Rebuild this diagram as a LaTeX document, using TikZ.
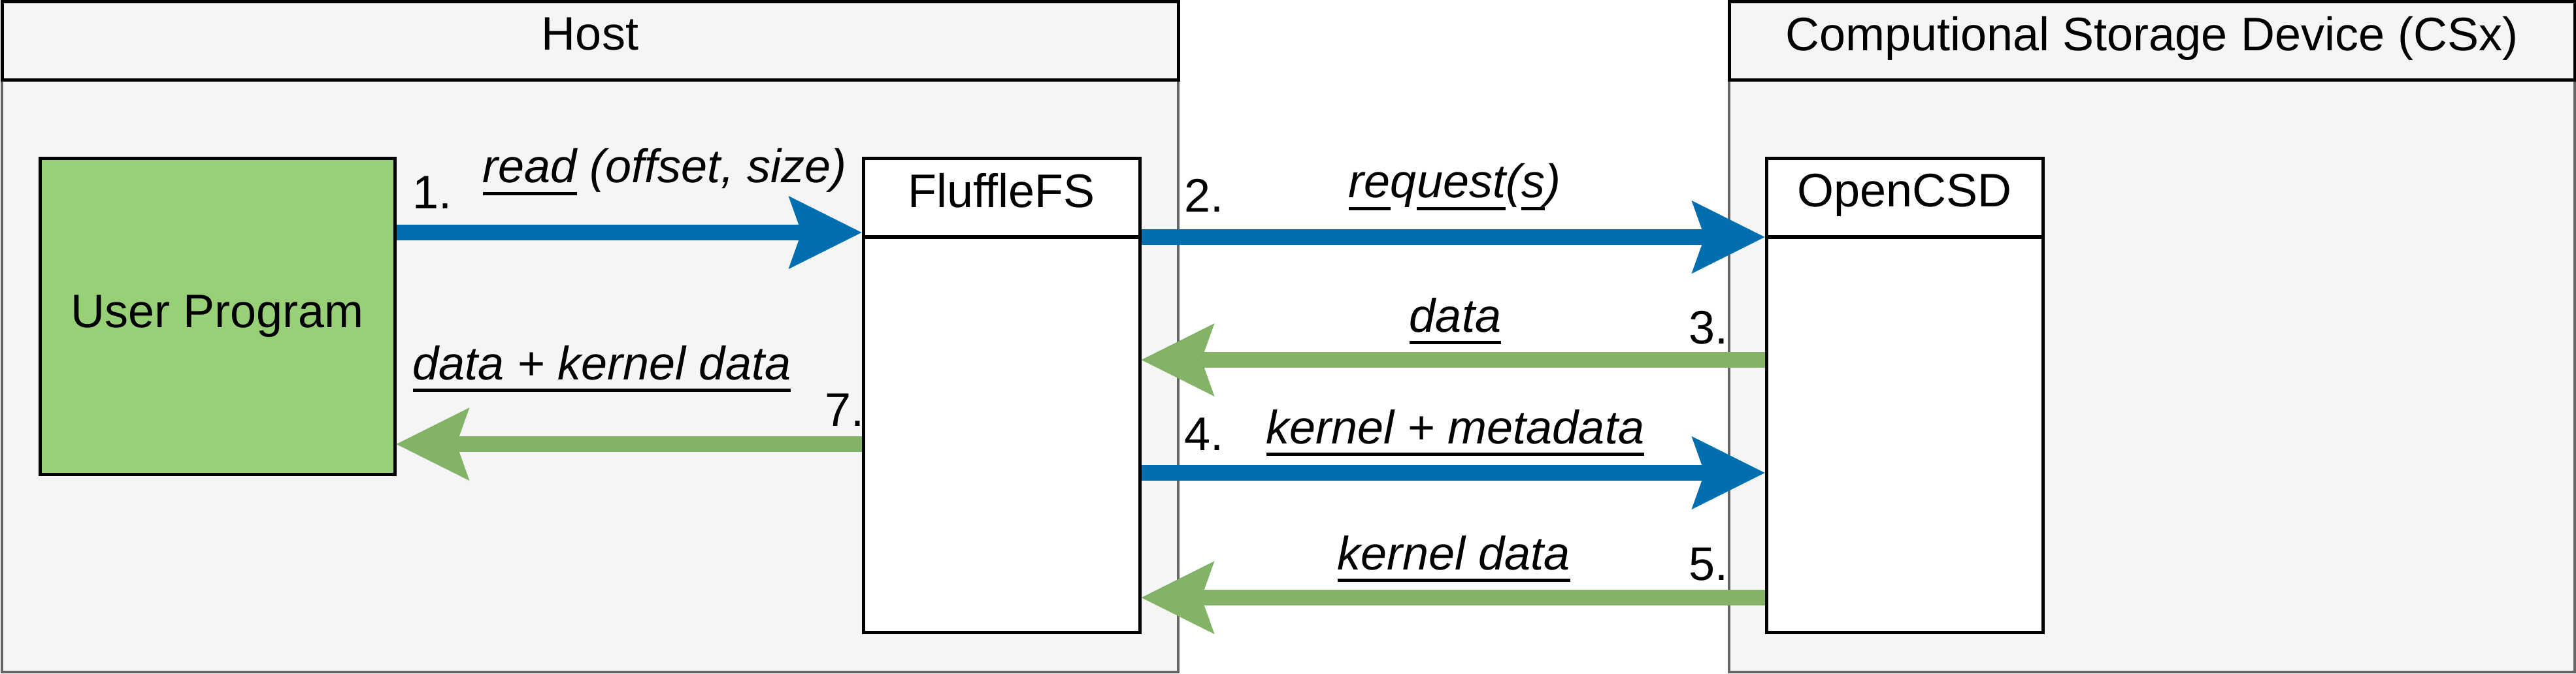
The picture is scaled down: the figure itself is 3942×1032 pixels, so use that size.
\documentclass[tikz,border=0pt]{standalone}
\usepackage{fontspec}
\setmainfont{Liberation Sans}
\usetikzlibrary{arrows.meta}
\definecolor{cblue}{HTML}{006EAF}
\definecolor{cgreen}{HTML}{82B366}
\definecolor{cuser}{HTML}{97D077}
\definecolor{cpool}{HTML}{F5F5F5}
\definecolor{cgray}{HTML}{666666}
\newcommand\ulx[1]{\setbox0\hbox{#1}\rlap{\rule[-9.5pt]{\wd0}{2.5pt}}\box0\relax}
\begin{document}
\begin{tikzpicture}[x=0.5pt,y=-0.5pt,
  font=\fontsize{36}{43}\selectfont,
  poolbody/.style={draw=cgray, line width=2pt, fill=cpool, inner sep=0pt, minimum height=453pt},
  headbox/.style={draw=black, line width=2.5pt, fill=cpool, inner sep=0pt, minimum height=60pt, text depth=11.5pt},
  userbox/.style={draw=black, line width=2.5pt, fill=cuser, inner sep=0pt, minimum width=271.5pt, minimum height=241.5pt},
  lifehead/.style={draw=black, line width=2.5pt, fill=white, inner sep=0pt, minimum width=211.5pt, minimum height=60pt, text depth=11.5pt},
  lifebody/.style={draw=black, line width=2.5pt, fill=white, inner sep=0pt, minimum width=211.5pt, minimum height=302.5pt},
  flow/.style={line width=12pt, -{Stealth[length=56pt, width=56pt, inset=10pt, line width=0pt]}},
  lbl/.style={anchor=base, inner sep=0pt, font=\fontsize{36}{43}\selectfont\itshape},
  num/.style={anchor=base west, inner sep=0pt}]
\useasboundingbox (0,0) rectangle (3942,1032);
% containers
\node[poolbody, minimum width=900pt] (hostbody) at (903,576) {};
\node[headbox, minimum width=900pt] (host) at (903,63) {Host};
\node[poolbody, minimum width=647pt] (csxbody) at (3293,576) {};
\node[headbox, minimum width=647pt] (csx) at (3293,63) {Computional Storage Device (CSx)};
% participants
\node[userbox] (user) at (332.5,484.5) {User Program};
\node[lifebody] (fbody) at (1532.5,665.5) {};
\node[lifehead] (fhead) at (1532.5,303) {FluffleFS};
\node[lifebody] (obody) at (2914.5,665.5) {};
\node[lifehead] (ohead) at (2914.5,303) {OpenCSD};
% arrow levels
\coordinate (y1) at (0,356);
\coordinate (y2) at (0,363);
\coordinate (y3) at (0,551);
\coordinate (y4) at (0,724);
\coordinate (y5) at (0,915);
\coordinate (y7) at (0,680);
% connectors
\draw[flow, cblue] (user.east |- y1) -- (fhead.west |- y1);
\draw[flow, cblue] (fbody.east |- y2) -- (obody.west |- y2);
\draw[flow, cgreen] (obody.west |- y3) -- (fbody.east |- y3);
\draw[flow, cblue] (fbody.east |- y4) -- (obody.west |- y4);
\draw[flow, cgreen] (obody.west |- y5) -- (fbody.east |- y5);
\draw[flow, cgreen] (fbody.west |- y7) -- (user.east |- y7);
% labels
\node[lbl] (l1) at (1017,280) {\ulx{read} (offset, size)};
\node[num] (n1) at (631,320) {1.};
\node[lbl] (l2) at (2226,303) {\ulx{re}q\ulx{uest}(\ulx{s})};
\node[num] (n2) at (1812,325) {2.};
\node[lbl] (l3) at (2227,508) {\ulx{data}};
\node[num] (n3) at (2584,526) {3.};
\node[lbl] (l4) at (2227,679) {\ulx{kernel + metadata}};
\node[num] (n4) at (1812,689) {4.};
\node[lbl] (l5) at (2225,872) {\ulx{kernel data}};
\node[num] (n5) at (2584,888) {5.};
\node[lbl] (l7) at (921,581) {\ulx{data + kernel data}};
\node[num] (n7) at (1262,652) {7.};
\end{tikzpicture}
\end{document}
